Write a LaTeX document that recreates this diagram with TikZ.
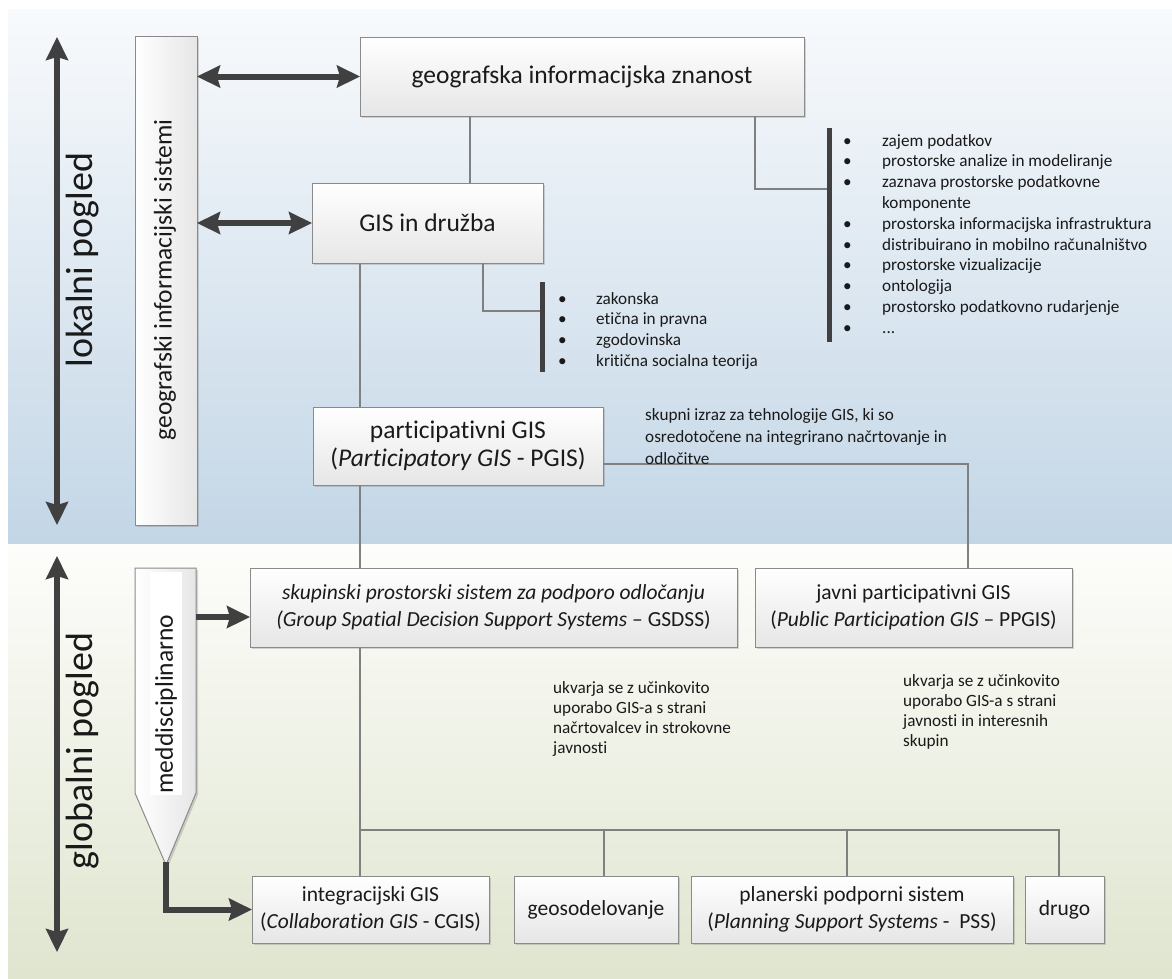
\documentclass[tikz,border=0pt]{standalone}
\usepackage{fontspec}
\setmainfont{Carlito}[Ligatures=NoCommon]
\usetikzlibrary{arrows.meta,shadows}
\definecolor{arrowgray}{HTML}{404040}
\definecolor{linegray}{HTML}{808080}
\definecolor{boxline}{HTML}{8A8A8A}
\definecolor{boxbot}{HTML}{E6E6E6}
\definecolor{bluetop}{HTML}{F8FAFC}
\definecolor{bluebot}{HTML}{C3D6E6}
\definecolor{greentop}{HTML}{FDFDFB}
\definecolor{greenbot}{HTML}{DFE5CF}
\definecolor{txt}{HTML}{1A1A1A}
\tikzset{
  bigtip/.tip={Stealth[length=23pt,width=22pt,inset=3pt]},
  bigarrow/.style={draw=arrowgray, line width=6pt},
  box/.style={draw=boxline, line width=1pt, top color=white, bottom color=boxbot,
    inner sep=0pt, outer sep=0pt, align=center, text=txt,
    drop shadow={shadow xshift=2pt, shadow yshift=-2pt, opacity=0.25, fill=black!60}},
  vbox/.style={draw=boxline, line width=1pt, left color=white, right color=boxbot,
    inner sep=0pt, outer sep=0pt,
    drop shadow={shadow xshift=2pt, shadow yshift=-2pt, opacity=0.25, fill=black!60}},
  hugefont/.style={font=\fontsize{38}{42}\selectfont, text=txt, inner sep=0pt},
  bigfont/.style={font=\fontsize{25.5}{28.5}\selectfont},
  midfont/.style={font=\fontsize{21.5}{27}\selectfont},
  smallfont/.style={font=\fontsize{17.2}{20.8}\selectfont, text=txt, inner sep=0pt, anchor=base west},
  conn/.style={draw=linegray, line width=1.3pt},
  bar/.style={fill=arrowgray, minimum width=5pt, inner sep=0pt, outer sep=0pt},
}
\newcommand{\bul}{\makebox[39pt][l]{\textbullet}}
\newcommand{\bulb}{\makebox[38pt][l]{\textbullet}}
\begin{document}
\begin{tikzpicture}[x=1pt,y=-1pt]
\useasboundingbox (0,0) rectangle (1172,978);
% background bands
\shade[top color=bluetop, bottom color=bluebot] (8,9) rectangle (1172,543);
\shade[top color=greentop, bottom color=greenbot] (8,545) rectangle (1172,978);

% left view arrows
\coordinate (lt) at (57,37);
\coordinate (lb) at (57,525);
\draw[bigarrow, bigtip-bigtip] (lt) -- (lb);
\node[rotate=90, hugefont] (lok) at (83,260) {lokalni pogled};
\coordinate (gt) at (57,556);
\coordinate (gb) at (57,952);
\draw[bigarrow, bigtip-bigtip] (gt) -- (gb);
\node[rotate=90, hugefont] (glob) at (83,751) {globalni pogled};

% vertical box
\node[vbox, minimum width=62pt, minimum height=489pt] (gsys) at (166,280.5) {};
\node[rotate=90, bigfont, text=txt, inner sep=0pt] (gsyst) at (165,280) {geografski informacijski sistemi};

% meddisciplinarno shape
\shadedraw[draw=boxline, line width=1pt, left color=white, right color=boxbot,
  drop shadow={shadow xshift=2pt, shadow yshift=-2pt, opacity=0.25, fill=black!60}]
  (135,568) -- (196,568) -- (196,793) -- (166,865) -- (135,793) -- cycle;
\fill[white] (150,572) rectangle (182,795);
\node[rotate=90, bigfont, text=txt, inner sep=0pt] (med) at (166,704) {meddisciplinarno};
\coordinate (medR) at (196,617);
\coordinate (medTip) at (166,862);

% main boxes
\node[box, bigfont, minimum width=444pt, minimum height=79pt] (geo) at (582,76.5) {geografska informacijska znanost};
\node[box, bigfont, minimum width=231pt, minimum height=80pt] (druzba) at (427.5,223) {GIS in družba};
\node[box, bigfont, minimum width=290pt, minimum height=78pt] (pgis) at (458,446)
  {participativni GIS\\(\textit{Participatory GIS} - PGIS)};
\node[box, midfont, minimum width=487pt, minimum height=79pt] (gsdss) at (493.5,607.5)
  {\textit{skupinski prostorski sistem za podporo odločanju}\\\textit{(Group Spatial Decision Support Systems} – GSDSS)};
\node[box, midfont, minimum width=317pt, minimum height=79pt] (ppgis) at (913.5,607.5)
  {javni participativni GIS\\(\textit{Public Participation GIS} – PPGIS)};
\node[box, midfont, minimum width=237pt, minimum height=67pt] (cgis) at (370.5,909.5)
  {integracijski GIS\\(\textit{Collaboration GIS} - CGIS)};
\node[box, midfont, minimum width=164pt, minimum height=67pt] (geosod) at (596,909.5) {geosodelovanje};
\node[box, midfont, minimum width=322pt, minimum height=67pt] (pss) at (852,909.5)
  {planerski podporni sistem\\(\textit{Planning Support Systems} -\ \ PSS)};
\node[box, midfont, minimum width=79pt, minimum height=67pt] (drugo) at (1064.5,909.5) {drugo};

% big arrows
\draw[bigarrow, bigtip-bigtip] (gsys.east |- geo.west) -- (geo.west);
\draw[bigarrow, bigtip-bigtip] (gsys.east |- druzba.west) -- (druzba.west);
\draw[bigarrow, -bigtip] (medR) -- (gsdss.west |- medR);
\draw[bigarrow, -bigtip] (medTip) |- (cgis.west);

% bracket bars
\node[bar, minimum height=214pt] (br1) at (829,235) {};
\node[bar, minimum height=90pt] (br2) at (542,327) {};

% connectors
\coordinate (spine) at (360,0);
\coordinate (g1) at ([xshift=110pt]geo.south west);
\draw[conn] (g1) -- (g1 |- druzba.north);
\draw[conn] ([xshift=395pt]geo.south west) |- ([yshift=46pt]br1.west);
\draw[conn] ([xshift=171pt]druzba.south west) |- ([yshift=16pt]br2.west);
\draw[conn] (druzba.south -| spine) -- (pgis.north -| spine);
\draw[conn] (pgis.south -| spine) -- (gsdss.north -| spine);
\draw[conn] ([yshift=-18pt]pgis.east) -| ([xshift=54.5pt]ppgis.north);
\draw[conn] (gsdss.south -| spine) -- (cgis.north -| spine);
\coordinate (bus) at (360,830);
\draw[conn] (bus) -| ([xshift=8pt]geosod.north);
\draw[conn] (bus) -| ([xshift=-5pt]pss.north);
\draw[conn] (bus) -| ([xshift=-5.5pt]drugo.north);

% lists
\node[smallfont] (list1) at (843,146) {\begin{tabular}[t]{@{}l@{}}
\bul zajem podatkov\\
\bul prostorske analize in modeliranje\\
\bul zaznava prostorske podatkovne\\
\makebox[39pt][l]{}komponente\\
\bul prostorska informacijska infrastruktura\\
\bul distribuirano in mobilno računalništvo\\
\bul prostorske vizualizacije\\
\bul ontologija\\
\bul prostorsko podatkovno rudarjenje\\
\bul ...
\end{tabular}};
\node[smallfont] (list2) at (558,304) {\begin{tabular}[t]{@{}l@{}}
\bulb zakonska\\
\bulb etična in pravna\\
\bulb zgodovinska\\
\bulb kritična socialna teorija
\end{tabular}};

% notes
\node[smallfont, font=\fontsize{17.2}{22.3}\selectfont] (note1) at (645,420) {\begin{tabular}[t]{@{}l@{}}
skupni izraz za tehnologije GIS, ki so\\
osredotočene na integrirano načrtovanje in\\
odločitve
\end{tabular}};
\node[smallfont, font=\fontsize{17.2}{20.3}\selectfont] (note2) at (553,693) {\begin{tabular}[t]{@{}l@{}}
ukvarja se z učinkovito\\
uporabo GIS-a s strani\\
načrtovalcev in strokovne\\
javnosti
\end{tabular}};
\node[smallfont, font=\fontsize{17.2}{20.3}\selectfont] (note3) at (903,686) {\begin{tabular}[t]{@{}l@{}}
ukvarja se z učinkovito\\
uporabo GIS-a s strani\\
javnosti in interesnih\\
skupin
\end{tabular}};
\end{tikzpicture}
\end{document}
